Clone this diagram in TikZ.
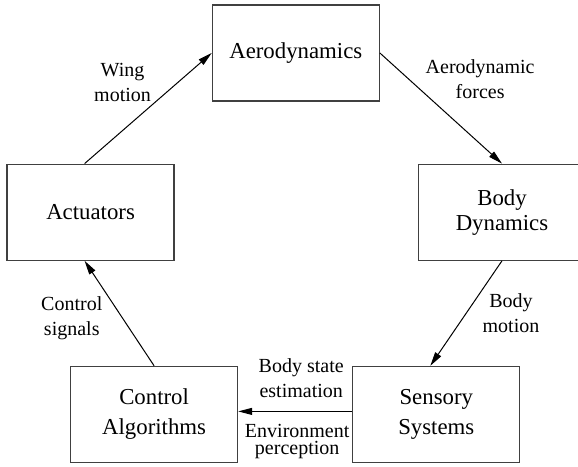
\documentclass[tikz,border=0pt]{standalone}
\usepackage{fontspec}
\setmainfont{Liberation Serif}
\usepackage{tikz}
\usetikzlibrary{arrows.meta, positioning}

\begin{document}
\begin{tikzpicture}[
  node distance=31pt and 18.5pt,
  every node/.style={font=\fontsize{10}{12.5}\selectfont},
  block/.style={rectangle, draw=black!75, line width=0.6pt, align=center,
    minimum width=83.5pt, minimum height=48pt, inner sep=0pt,
    font=\fontsize{11.4}{12.5}\selectfont},
  lbl/.style={align=center, inner sep=1pt},
  arr/.style={-{Triangle[length=7pt, width=3.5pt]}, line width=0.5pt}
]

\useasboundingbox (-147.9pt,26.5pt) rectangle (141.1pt,-206.5pt);

\node[block] (aero) {Aerodynamics};
\node[block, below left=of aero] (act) {Actuators};
\node[block, below right=31pt and 19pt of aero] (body) {Body\\Dynamics};
\node[block, below=52.5pt of act, xshift=31.75pt] (ctrl) {Control\\[2.5pt]Algorithms};
\node[block, right=57pt of ctrl] (sens) {Sensory\\[2.5pt]Systems};

\draw[arr] ([xshift=-3pt]act.north) -- (aero.west)
  node[lbl, pos=0.73, left=12pt] {Wing\\motion};
\draw[arr] (aero.east) -- (body.north)
  node[lbl, pos=0.24, right=7pt] {Aerodynamic\\forces};
\draw[arr] (body.south) -- ([xshift=-3pt]sens.north)
  node[lbl, midway, right=7pt] {Body\\motion};
\draw[arr] ([yshift=1.5pt]sens.west) -- ([yshift=1.5pt]ctrl.east)
  node[lbl, midway, above=5.5pt, xshift=3pt] {Body state\\estimation}
  node[lbl, midway, below=5pt, xshift=1pt] {Environment\\[-4pt]perception};
\draw[arr] (ctrl.north) -- ([xshift=-3pt]act.south)
  node[lbl, pos=0.45, left=9pt] {Control\\signals};

\end{tikzpicture}
\end{document}
